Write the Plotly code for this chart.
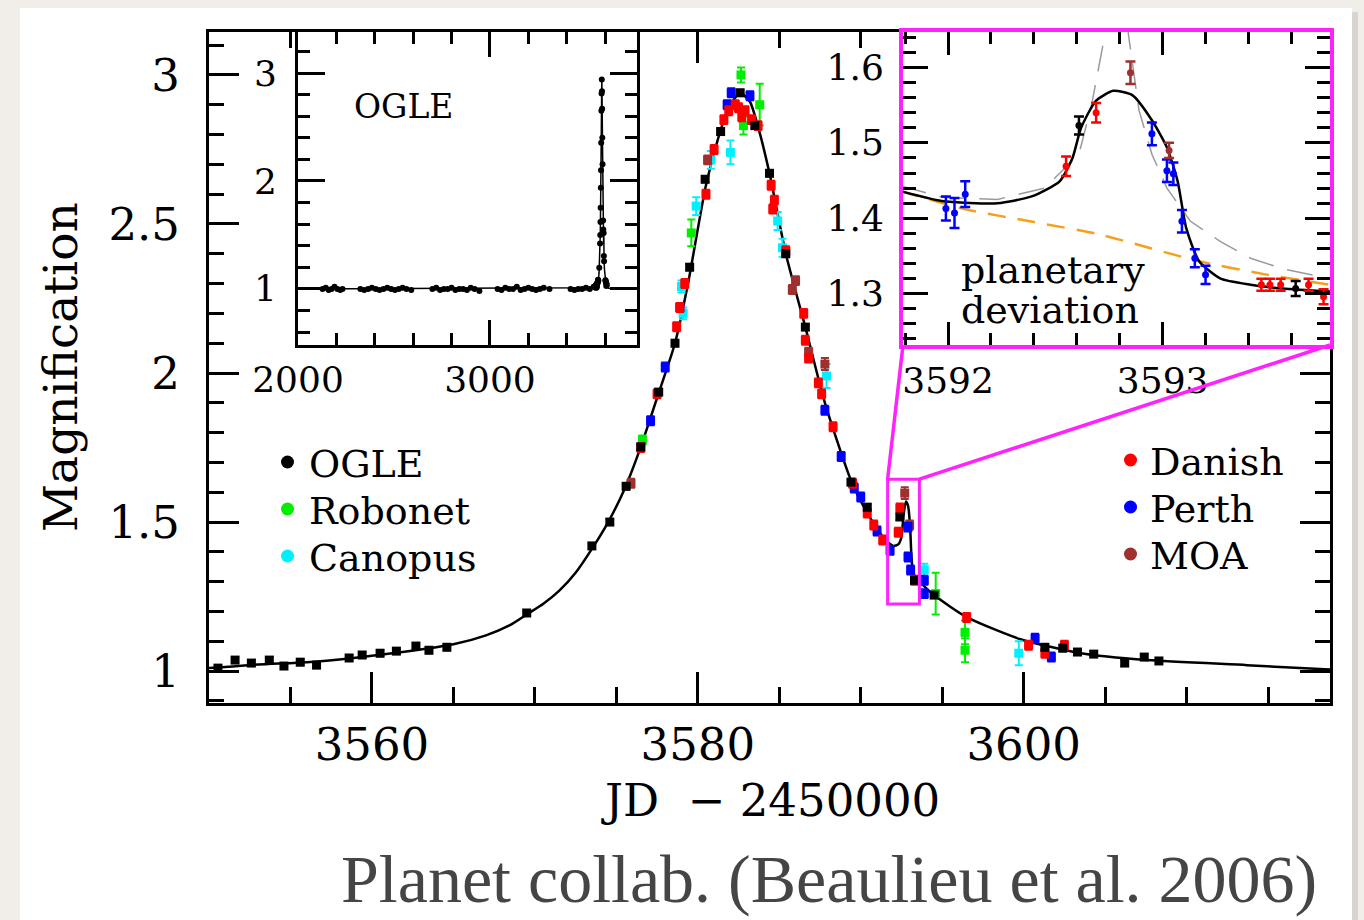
import plotly.graph_objects as go

W, H = 1364, 920
FONT = "DejaVu Serif"

# ---------------- main light curve: model ----------------
model_x = [3550.0, 3553.0, 3556.0, 3559.0, 3562.0, 3565.0, 3567.0, 3568.5, 3569.5, 3570.5,
           3571.5, 3572.5, 3573.5, 3574.5, 3575.5, 3576.5, 3577.6, 3578.6, 3579.4, 3580.5,
           3581.4, 3582.0, 3582.6, 3583.2, 3583.7, 3584.4, 3585.4, 3586.6, 3587.8, 3589.4,
           3590.4, 3591.5, 3592.0, 3592.3, 3592.5, 3592.62, 3592.77, 3592.9, 3593.02, 3593.11,
           3593.2, 3593.4, 3594.5, 3596.5, 3599.8, 3603.5, 3607.6, 3613.7, 3618.8]
model_y = [1.010, 1.022, 1.030, 1.045, 1.065, 1.090, 1.120, 1.155, 1.190, 1.225,
           1.270, 1.330, 1.410, 1.500, 1.610, 1.752, 1.933, 2.100, 2.300, 2.630,
           2.815, 2.900, 2.940, 2.910, 2.826, 2.670, 2.400, 2.154, 1.900, 1.640,
           1.530, 1.440, 1.420, 1.425, 1.450, 1.520, 1.569, 1.555, 1.494, 1.387,
           1.335, 1.312, 1.255, 1.181, 1.107, 1.060, 1.037, 1.020, 1.005]

# ---------------- main light curve: data ----------------
ogle_x = [3550.55, 3551.6, 3552.6, 3553.7, 3554.6, 3555.6, 3556.6, 3558.6, 3559.4, 3560.5,
          3561.5, 3562.7, 3563.5, 3564.6, 3569.5, 3573.5, 3574.6, 3575.6, 3576.5, 3577.6,
          3578.6, 3579.5, 3580.45, 3581.4, 3582.6, 3583.5, 3584.4, 3585.4, 3586.6, 3589.4,
          3590.4, 3592.4, 3593.3, 3594.5, 3601.3, 3602.4, 3603.3, 3604.3, 3606.2, 3607.4, 3608.3]
ogle_y = [1.010, 1.037, 1.027, 1.037, 1.017, 1.030, 1.020, 1.044, 1.054, 1.060,
          1.067, 1.084, 1.070, 1.080, 1.195, 1.420, 1.500, 1.620, 1.752, 1.936,
          2.100, 2.355, 2.650, 2.810, 2.940, 2.830, 2.670, 2.400, 2.154, 1.634,
          1.550, 1.517, 1.305, 1.255, 1.080, 1.077, 1.064, 1.057, 1.027, 1.047, 1.034]
ogle_e = [0.010] * 41

danish_x = [3576.5, 3577.5, 3578.7, 3578.9, 3579.2, 3580.5, 3581.0, 3581.6, 3581.9, 3582.3,
            3582.5, 3582.7, 3582.9, 3583.3, 3583.7, 3584.5, 3584.6, 3584.7, 3585.4, 3586.5,
            3586.6, 3586.8, 3587.4, 3587.6, 3588.3, 3589.5, 3590.4, 3590.8, 3591.35, 3592.3,
            3592.4, 3593.3, 3596.5, 3600.3, 3601.3, 3602.5]
danish_y = [1.750, 1.930, 2.155, 2.220, 2.300, 2.600, 2.750, 2.850, 2.880, 2.900,
            2.890, 2.860, 2.880, 2.850, 2.830, 2.630, 2.550, 2.580, 2.410, 2.200,
            2.110, 2.050, 1.967, 1.930, 1.820, 1.630, 1.530, 1.490, 1.440, 1.466,
            1.547, 1.305, 1.180, 1.087, 1.060, 1.087]
danish_e = [0.015] * 36

perth_x = [3577.1, 3578.0, 3578.9, 3581.8, 3582.05, 3583.2, 3587.8, 3588.8, 3589.6, 3590.0,
           3591.0, 3591.8, 3592.9, 3592.9, 3593.06, 3593.9, 3593.9, 3600.7, 3601.7]
perth_y = [1.840, 2.020, 2.220, 2.900, 2.940, 2.930, 1.875, 1.720, 1.614, 1.584,
           1.470, 1.405, 1.483, 1.383, 1.339, 1.305, 1.260, 1.110, 1.047]
perth_e = [0.015] * 19

robonet_x = [3576.6, 3579.6, 3582.65, 3582.8, 3583.8, 3594.6, 3596.4, 3596.4]
robonet_y = [1.775, 2.470, 3.000, 2.830, 2.900, 1.260, 1.130, 1.070]
robonet_e = [0.015, 0.045, 0.025, 0.030, 0.070, 0.070, 0.040, 0.040]

canopus_x = [3579.0, 3579.1, 3579.9, 3580.8, 3582.0, 3584.9, 3585.2, 3587.9, 3593.9, 3599.7]
canopus_y = [2.290, 2.200, 2.560, 2.715, 2.740, 2.510, 2.420, 1.990, 1.340, 1.060]
canopus_e = [0.020, 0.020, 0.030, 0.030, 0.040, 0.030, 0.030, 0.040, 0.020, 0.040]

moa_x = [3575.9, 3580.6, 3585.8, 3586.0, 3586.8, 3587.8, 3592.7, 3593.0]
moa_y = [1.630, 2.715, 2.280, 2.310, 2.070, 2.030, 1.597, 1.490]
moa_e = [0.015, 0.015, 0.015, 0.015, 0.015, 0.020, 0.020, 0.015]

# ---------------- inset 1 : OGLE baseline seasons ----------------
base_x = [2128, 2145, 2160, 2175, 2190, 2205, 2220, 2232,
          2325, 2345, 2365, 2385, 2405, 2425, 2445, 2465, 2485, 2505, 2525, 2545, 2565, 2590,
          2700, 2720, 2740, 2760, 2780, 2800, 2820, 2840, 2860, 2880, 2900, 2920, 2945,
          3040, 3060, 3080, 3100, 3120, 3140, 3160, 3180, 3200, 3220, 3240, 3260, 3280, 3310,
          3420, 3440, 3460, 3480, 3500, 3520, 3540, 3555]
base_y = [1.00, 1.01, 0.99, 1.00, 1.02, 1.00, 0.99, 1.00,
          1.00, 0.99, 1.00, 1.01, 1.00, 0.99, 1.00, 1.01, 1.00, 0.99, 1.00, 1.01, 1.00, 0.99,
          1.00, 1.01, 0.99, 1.00, 1.00, 1.01, 0.99, 1.00, 1.00, 0.99, 1.01, 1.00, 0.98,
          1.00, 0.99, 1.01, 1.00, 1.00, 1.02, 0.99, 1.00, 1.01, 1.00, 0.99, 1.00, 1.01, 1.00,
          1.00, 0.99, 1.00, 1.00, 1.01, 1.00, 1.02, 1.01]

# ---------------- inset 2 : planetary deviation ----------------
dev_model_x = [3591.78, 3591.97, 3592.23, 3592.39, 3592.52, 3592.58, 3592.62, 3592.69, 3592.77,
               3592.86, 3592.95, 3593.02, 3593.07, 3593.11, 3593.17, 3593.27, 3593.41, 3593.56, 3593.78]
dev_model_y = [1.436, 1.423, 1.420, 1.429, 1.449, 1.480, 1.520, 1.556, 1.569,
               1.563, 1.530, 1.494, 1.449, 1.387, 1.343, 1.320, 1.312, 1.307, 1.303]
alt_model_x = [3591.78, 3591.97, 3592.23, 3592.45, 3592.61, 3592.67, 3592.72, 3592.76,
               3592.82, 3592.84, 3592.89, 3592.95, 3593.02, 3593.13, 3593.27, 3593.41, 3593.56, 3593.78]
alt_model_y = [1.443, 1.428, 1.425, 1.440, 1.485, 1.552, 1.627, 1.750,
               1.750, 1.645, 1.543, 1.485, 1.440, 1.396, 1.369, 1.347, 1.333, 1.320]
single_x = [3591.78, 3592.08, 3592.40, 3592.70, 3593.17, 3593.49, 3593.78]
single_y = [1.436, 1.412, 1.395, 1.379, 1.343, 1.325, 1.312]

dperth_x = [3591.99, 3592.03, 3592.08, 3592.95, 3593.02, 3593.05, 3593.09, 3593.15, 3593.20]
dperth_y = [1.413, 1.407, 1.432, 1.512, 1.463, 1.459, 1.396, 1.347, 1.325]
dperth_e = [0.016, 0.020, 0.017, 0.015, 0.015, 0.015, 0.015, 0.012, 0.012]
ddanish_x = [3592.55, 3592.69, 3593.46, 3593.50, 3593.55, 3593.68, 3593.75]
ddanish_y = [1.469, 1.540, 1.312, 1.312, 1.312, 1.312, 1.296]
ddanish_e = [0.013, 0.013, 0.008, 0.008, 0.008, 0.008, 0.010]
dogle_x = [3592.61, 3593.62]
dogle_y = [1.523, 1.307]
dogle_e = [0.012, 0.010]
dmoa_x = [3592.85, 3593.03]
dmoa_y = [1.593, 1.490]
dmoa_e = [0.015, 0.010]

# zoom box in main-plot data units
box_x = [3591.65, 3593.60]
box_y = [1.225, 1.644]

legend_left = ["OGLE", "Robonet", "Canopus"]
legend_left_col = ["#000000", "#00ee00", "#00f0ff"]
legend_right = ["Danish", "Perth", "MOA"]
legend_right_col = ["#ff0000", "#0000ff", "#a03030"]

C_OGLE, C_ROBO, C_CANO = "#000000", "#00ee00", "#00f0ff"
C_DAN, C_PER, C_MOA = "#ff0000", "#0000ff", "#a03030"
MAGENTA = "#ff22ff"

# ---------------- layout geometry (pixels) ----------------
MAIN_PX = (209, 1330, 32, 703)      # left, right, top, bottom
IN1_PX = (298, 637, 32, 345)
IN2_PX = (903, 1330, 32, 345)
MAIN_XR = [3550, 3618.8]
MAIN_YR = [0.893, 3.144]
IN1_XR = [2000, 3766]
IN1_YR = [0.48, 3.38]
IN2_XR = [3591.79, 3593.78]
IN2_YR = [1.232, 1.647]


def dom_x(p):
    return [p[0] / W, p[1] / W]


def dom_y(p):
    return [1 - p[3] / H, 1 - p[2] / H]


fig = go.Figure()


def series(x, y, e, color, xa, ya, size, symbol, thick, width):
    fig.add_trace(go.Scatter(
        x=x, y=y, mode="markers", xaxis=xa, yaxis=ya, hoverinfo="skip",
        marker=dict(color=color, size=size, symbol=symbol, line=dict(width=0)),
        error_y=dict(type="data", array=e, color=color, thickness=thick, width=width)))


def line(x, y, xa, ya, color, width, dash="solid", shape="linear"):
    fig.add_trace(go.Scatter(x=x, y=y, mode="lines", xaxis=xa, yaxis=ya, hoverinfo="skip",
                             line=dict(color=color, width=width, dash=dash, shape=shape,
                                       smoothing=0.6)))


# main
line(model_x, model_y, "x", "y", "black", 2.5, shape="spline")
series(robonet_x, robonet_y, robonet_e, C_ROBO, "x", "y", 9, "square", 2, 4)
series(canopus_x, canopus_y, canopus_e, C_CANO, "x", "y", 9, "square", 2, 4)
series(moa_x, moa_y, moa_e, C_MOA, "x", "y", 9, "square", 2, 4)
series(perth_x, perth_y, perth_e, C_PER, "x", "y", 9, "square", 2, 4)
series(danish_x, danish_y, danish_e, C_DAN, "x", "y", 9, "square", 2, 4)
series(ogle_x, ogle_y, ogle_e, C_OGLE, "x", "y", 9, "square", 2, 4)

# inset 1
line([IN1_XR[0]] + model_x + [IN1_XR[1]], [1.0] + model_y + [1.0], "x2", "y2", "black", 1.5)
fig.add_trace(go.Scatter(x=base_x + ogle_x, y=base_y + ogle_y, mode="markers", xaxis="x2", yaxis="y2",
                         hoverinfo="skip", marker=dict(color="black", size=6, line=dict(width=0))))

# inset 2
line(single_x, single_y, "x3", "y3", "#f5a01a", 2.5, "18px,12px", "spline")
line(alt_model_x, alt_model_y, "x3", "y3", "#9a9a9a", 1.5, "26px,14px")
line(dev_model_x, dev_model_y, "x3", "y3", "black", 2.5, shape="spline")
series(dperth_x, dperth_y, dperth_e, C_PER, "x3", "y3", 7, "circle", 2.5, 5)
series(ddanish_x, ddanish_y, ddanish_e, C_DAN, "x3", "y3", 7, "circle", 2.5, 5)
series(dmoa_x, dmoa_y, dmoa_e, C_MOA, "x3", "y3", 7, "circle", 2.5, 5)
series(dogle_x, dogle_y, dogle_e, C_OGLE, "x3", "y3", 7, "circle", 2.5, 5)


def axis(dom, rng, anchor, tickvals, ticklen, mdtick, mtick0, mlen, fsize, standoff,
         linecolor="black", linewidth=3):
    return dict(domain=dom, range=rng, anchor=anchor, tickmode="array", tickvals=tickvals,
                ticks="inside", ticklen=ticklen, tickwidth=2.5, tickcolor="black",
                showline=True, linecolor=linecolor, linewidth=linewidth, mirror="ticks",
                minor=dict(tickmode="linear", tick0=mtick0, dtick=mdtick, ticks="inside",
                           ticklen=mlen, tickwidth=2.5, tickcolor="black", showgrid=False),
                showgrid=False, zeroline=False, fixedrange=True, automargin=False,
                tickfont=dict(family=FONT, size=fsize, color="black"),
                ticklabelstandoff=standoff)


layout = dict(
    width=W, height=H, margin=dict(l=0, r=0, t=0, b=0, autoexpand=False),
    paper_bgcolor="#f1eee9", plot_bgcolor="white", showlegend=False,
    xaxis=axis(dom_x(MAIN_PX), MAIN_XR, "y", [3560, 3580, 3600], 31, 5, 3550, 16, 45, 0),
    yaxis=axis(dom_y(MAIN_PX), MAIN_YR, "x", [1, 1.5, 2, 2.5, 3], 30, 0.1, 0, 15, 45, 17),
    xaxis2=axis(dom_x(IN1_PX), IN1_XR, "y2", [2000, 3000], 25, 200, 2000, 12, 36, 1),
    yaxis2=axis(dom_y(IN1_PX), IN1_YR, "x2", [1, 2, 3], 27, 0.2, 0, 12, 36, 11),
    xaxis3=axis(dom_x(IN2_PX), IN2_XR, "y3", [3592, 3593], 23, 0.2, 3592, 12, 36, 1,
                MAGENTA, 4),
    yaxis3=axis(dom_y(IN2_PX), IN2_YR, "x3", [1.3, 1.4, 1.5, 1.6], 25, 0.02, 1.2, 13, 36, 8,
                MAGENTA, 4),
)
fig.update_layout(**layout)


def to_paper(xv, yv):
    fx = (xv - MAIN_XR[0]) / (MAIN_XR[1] - MAIN_XR[0])
    fy = (yv - MAIN_YR[0]) / (MAIN_YR[1] - MAIN_YR[0])
    dx, dy = dom_x(MAIN_PX), dom_y(MAIN_PX)
    return dx[0] + fx * (dx[1] - dx[0]), dy[0] + fy * (dy[1] - dy[0])


shapes = []
# card background and shadow
shapes.append(dict(type="rect", xref="paper", yref="paper", x0=24 / W, x1=1358 / W, y0=0, y1=1 - 12 / H,
                   fillcolor="rgba(0,0,0,0.10)", line=dict(width=0), layer="below"))
shapes.append(dict(type="rect", xref="paper", yref="paper", x0=20 / W, x1=1352 / W, y0=0, y1=1 - 8 / H,
                   fillcolor="white", line=dict(width=0), layer="below"))
# zoom box
shapes.append(dict(type="rect", xref="x", yref="y", x0=box_x[0], x1=box_x[1], y0=box_y[0], y1=box_y[1],
                   line=dict(color=MAGENTA, width=3), fillcolor="rgba(0,0,0,0)"))
# connectors from box to inset 2
bl = to_paper(box_x[0], box_y[1])
br = to_paper(box_x[1], box_y[1])
i2x, i2y = dom_x(IN2_PX), dom_y(IN2_PX)
shapes.append(dict(type="line", xref="paper", yref="paper", x0=bl[0], y0=bl[1], x1=i2x[0], y1=i2y[0],
                   line=dict(color=MAGENTA, width=3.5)))
shapes.append(dict(type="line", xref="paper", yref="paper", x0=br[0], y0=br[1], x1=i2x[1], y1=i2y[0],
                   line=dict(color=MAGENTA, width=3.5)))

# legend dots
for i, c in enumerate(legend_left_col):
    cy = 1 - (462 + i * 47) / H
    shapes.append(dict(type="circle", xref="paper", yref="paper", x0=281 / W, x1=294 / W,
                       y0=cy - 6.5 / H, y1=cy + 6.5 / H, fillcolor=c, line=dict(width=0)))
for i, c in enumerate(legend_right_col):
    cy = 1 - (460 + i * 47) / H
    shapes.append(dict(type="circle", xref="paper", yref="paper", x0=1124 / W, x1=1137 / W,
                       y0=cy - 6.5 / H, y1=cy + 6.5 / H, fillcolor=c, line=dict(width=0)))
fig.update_layout(shapes=shapes)

ann = []


def text(t, x, y, size, xanchor="left", color="black", family=FONT, angle=0):
    ann.append(dict(text=t, x=x / W, y=1 - y / H, xref="paper", yref="paper", showarrow=False,
                    xanchor=xanchor, yanchor="middle", textangle=angle, borderpad=0,
                    font=dict(family=family, size=size, color=color)))


for i, t in enumerate(legend_left):
    text(t, 308, 464 + i * 47, 38)
for i, t in enumerate(legend_right):
    text(t, 1149, 462 + i * 47, 38)
text("OGLE", 353, 106, 33)
text("planetary", 960, 270, 38)
text("deviation", 960, 310, 38)
text("Magnification", 60, 367, 47, xanchor="center", angle=-90)
text("JD\u00a0\u00a0\u2212\u00a02450000", 770, 800, 45, xanchor="center")
text("Planet collab. (Beaulieu et al. 2006)", 1318, 879, 68, xanchor="right", color="#454545",
     family="Liberation Serif")
fig.update_layout(annotations=ann)

fig.write_html("out.html")
